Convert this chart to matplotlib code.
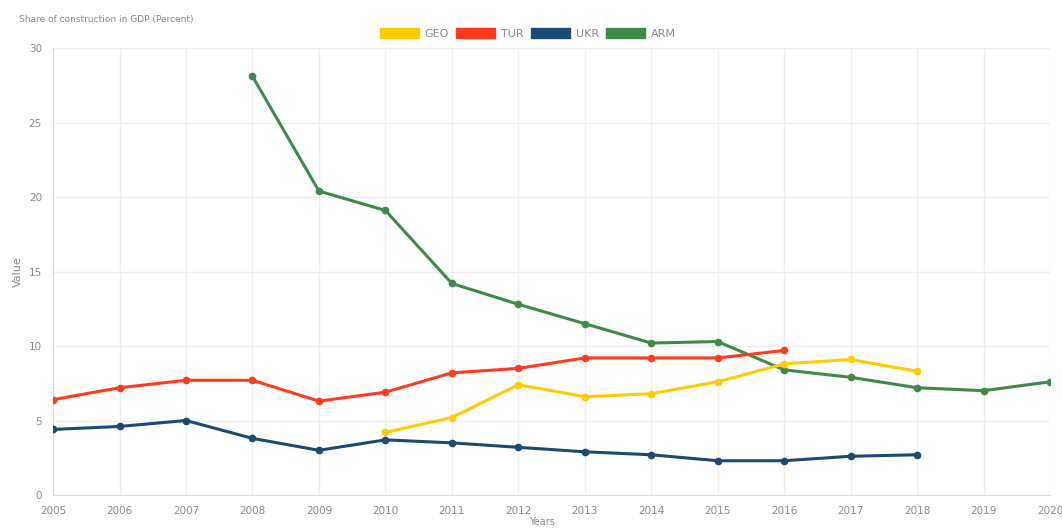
import numpy as np
import matplotlib.pyplot as plt
from matplotlib.patches import Patch

years = list(range(2005, 2021))

geo_years = [2010, 2011, 2012, 2013, 2014, 2015, 2016, 2017, 2018]
geo = [4.2, 5.2, 7.4, 6.6, 6.8, 7.6, 8.8, 9.1, 8.3]

tur_years = list(range(2005, 2017))
tur = [6.4, 7.2, 7.7, 7.7, 6.3, 6.9, 8.2, 8.5, 9.2, 9.2, 9.2, 9.7]

ukr_years = list(range(2005, 2019))
ukr = [4.4, 4.6, 5.0, 3.8, 3.0, 3.7, 3.5, 3.2, 2.9, 2.7, 2.3, 2.3, 2.6, 2.7]

arm_years = list(range(2008, 2021))
arm = [28.1, 20.4, 19.1, 14.2, 12.8, 11.5, 10.2, 10.3, 8.4, 7.9, 7.2, 7.0, 7.6]

colors = {'GEO': '#ffcc00', 'TUR': '#ff3b1f', 'UKR': '#1c4a73', 'ARM': '#3f8a4b'}
txt = '#8a8a8a'

plt.close('all')
fig = plt.figure(figsize=(10.62, 5.28), dpi=100)
ax = fig.add_axes([0.05, 0.0625, 0.9387, 0.8465])

for name, xs, ys in [('ARM', arm_years, arm), ('GEO', geo_years, geo),
                     ('TUR', tur_years, tur), ('UKR', ukr_years, ukr)]:
    ax.plot(xs, ys, color=colors[name], linewidth=2.2, marker='o', markersize=4.5,
            zorder=3)

ax.set_xlim(2005, 2020)
ax.set_ylim(0, 30)
ax.set_xticks(years)
ax.set_yticks([0, 5, 10, 15, 20, 25, 30])
ax.tick_params(axis='both', labelsize=7.5, labelcolor=txt, length=0, pad=8)
ax.grid(True, color='#efefef', linewidth=1)
for s in ['top', 'right']:
    ax.spines[s].set_visible(False)
ax.spines['left'].set_color('#dddddd')
ax.spines['bottom'].set_color('#dddddd')

ax.set_ylabel('Value', fontsize=8, color=txt, labelpad=4)
ax.set_xlabel('Years', fontsize=7, color=txt, va='bottom')
ax.xaxis.set_label_coords(0.49, -0.072)

fig.text(0.018, 0.958, 'Share of construction in GDP (Percent)', fontsize=6.5, color=txt)

handles = [Patch(facecolor=colors[n], edgecolor=colors[n]) for n in ['GEO', 'TUR', 'UKR', 'ARM']]
fig.legend(handles, ['GEO', 'TUR', 'UKR', 'ARM'], loc='center', bbox_to_anchor=(0.497, 0.937),
           ncol=4, frameon=False, fontsize=8, labelcolor=txt, handlelength=3.5,
           handleheight=1.1, columnspacing=0.7, handletextpad=0.5)

plt.savefig('out.png', dpi=100)
